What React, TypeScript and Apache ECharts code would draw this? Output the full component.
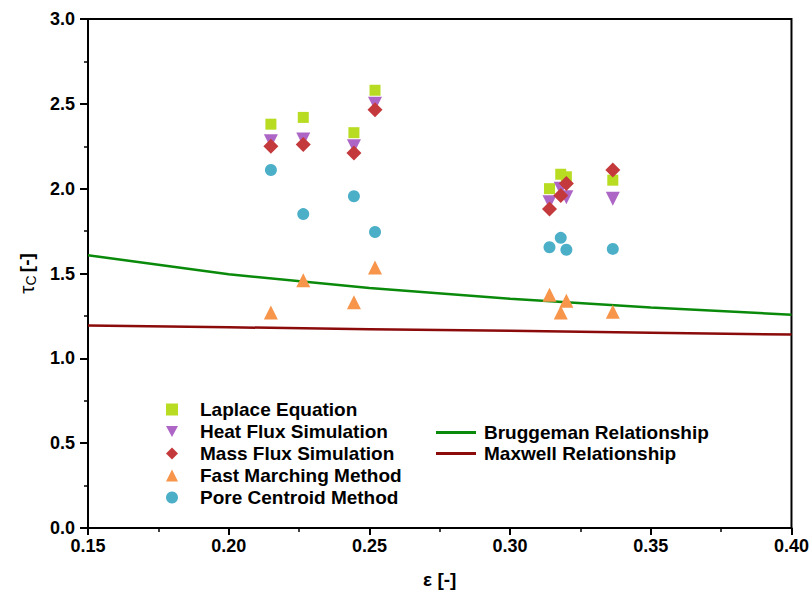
import React, { useEffect, useRef } from "react";
import * as echarts from "echarts";

const simEps = [0.215, 0.2265, 0.2445, 0.252, 0.314, 0.318, 0.320, 0.3365];
const laplace = [2.38, 2.42, 2.33, 2.58, 2.0, 2.085, 2.07, 2.05];
const heatFlux = [2.28, 2.29, 2.25, 2.5, 1.92, 2.0, 1.95, 1.94];
const massFlux = [2.25, 2.26, 2.21, 2.465, 1.88, 1.96, 2.03, 2.11];
const fastMarching = [1.27, 1.46, 1.33, 1.535, 1.375, 1.27, 1.34, 1.275];
const poreCentroid = [2.11, 1.85, 1.955, 1.745, 1.655, 1.71, 1.64, 1.645];

const modelEps = [0.15, 0.2, 0.25, 0.3, 0.35, 0.4];
const bruggeman = [1.607, 1.495, 1.414, 1.351, 1.299, 1.257];
const maxwell = [1.194, 1.183, 1.172, 1.162, 1.151, 1.14];

const FONT = "'Liberation Sans', Arial, sans-serif";

const pair = (xs: number[], ys: number[]) => xs.map((x, i) => [x, ys[i]]);

export default function App() {
  const ref = useRef<HTMLDivElement>(null);
  useEffect(() => {
    if (!ref.current) return;
    const chart = echarts.init(ref.current, null, { renderer: "svg" });
    const scatter = (name: string, data: number[], symbol: string, color: string, size: number, rotate = 0) => ({
      name,
      type: "scatter",
      data: pair(simEps, data),
      symbol,
      symbolSize: size,
      symbolRotate: rotate,
      symbolKeepAspect: true,
      itemStyle: { color, opacity: 1 },
      z: 3,
    });
    chart.setOption({
      animation: false,
      backgroundColor: "#fff",
      grid: { left: 88, right: 20, top: 19, bottom: 66, show: true, borderColor: "#000", borderWidth: 2, containLabel: false },
      xAxis: {
        type: "value",
        min: 0.15,
        max: 0.4,
        interval: 0.05,
        name: "ε [-]",
        nameLocation: "middle",
        nameGap: 42,
        nameTextStyle: { fontFamily: FONT, fontWeight: "bold", fontSize: 19, color: "#000" },
        axisLine: { show: true, lineStyle: { color: "#000", width: 2 } },
        axisTick: { show: true, inside: false, length: 7, lineStyle: { color: "#000", width: 2 } },
        minorTick: { show: true, splitNumber: 2, length: 4, lineStyle: { color: "#000", width: 1.5 } },
        splitLine: { show: false },
        axisLabel: { fontFamily: FONT, fontWeight: "bold", fontSize: 18, color: "#000", margin: 9, formatter: (v: number) => v.toFixed(2) },
      },
      yAxis: {
        type: "value",
        min: 0,
        max: 3,
        interval: 0.5,
        name: "{t|τ}{s|C} {b|[-]}",
        nameLocation: "middle",
        nameRotate: 90,
        nameGap: 50,
        nameTextStyle: {
          color: "#000",
          fontFamily: FONT,
          rich: {
            t: { fontFamily: FONT, fontSize: 21, color: "#000" },
            s: { fontFamily: FONT, fontSize: 14, color: "#000", verticalAlign: "bottom", padding: [10, 0, 0, 0] },
            b: { fontFamily: FONT, fontSize: 19, fontWeight: "bold", color: "#000" },
          },
        },
        axisLine: { show: true, lineStyle: { color: "#000", width: 2 } },
        axisTick: { show: true, inside: false, length: 8, lineStyle: { color: "#000", width: 2 } },
        minorTick: { show: true, splitNumber: 2, length: 4, lineStyle: { color: "#000", width: 1.5 } },
        splitLine: { show: false },
        axisLabel: { fontFamily: FONT, fontWeight: "bold", fontSize: 18, color: "#000", margin: 13, formatter: (v: number) => v.toFixed(1) },
      },
      legend: [
        {
          orient: "vertical",
          left: 166,
          top: 400,
          padding: 0,
          itemWidth: 12,
          itemHeight: 12,
          itemGap: 3,
          textStyle: { fontFamily: FONT, fontWeight: "bold", fontSize: 19, color: "#000", padding: [0, 0, 0, 17] },
          data: [
            "Laplace Equation",
            { name: "Heat Flux Simulation", icon: "path://M0,0 L12,0 L6,11 Z" },
            "Mass Flux Simulation",
            "Fast Marching Method",
            "Pore Centroid Method",
          ],
        },
        {
          orient: "vertical",
          left: 436,
          top: 423,
          padding: 0,
          itemWidth: 40,
          itemHeight: 3,
          itemGap: 2,
          textStyle: { fontFamily: FONT, fontWeight: "bold", fontSize: 19, color: "#000", padding: [0, 0, 0, 3] },
          data: [
            { name: "Bruggeman Relationship", icon: "rect" },
            { name: "Maxwell Relationship", icon: "rect" },
          ],
        },
      ],
      series: [
        {
          name: "Bruggeman Relationship",
          type: "line",
          data: pair(modelEps, bruggeman),
          symbol: "none",
          lineStyle: { color: "#0a8a0a", width: 2.5 },
          itemStyle: { color: "#0a8a0a" },
          z: 2,
        },
        {
          name: "Maxwell Relationship",
          type: "line",
          data: pair(modelEps, maxwell),
          symbol: "none",
          lineStyle: { color: "#8b0a0a", width: 2.5 },
          itemStyle: { color: "#8b0a0a" },
          z: 2,
        },
        scatter("Laplace Equation", laplace, "rect", "#b8dc22", 11),
        scatter("Heat Flux Simulation", heatFlux, "triangle", "#ad66c6", 14, 180),
        scatter("Mass Flux Simulation", massFlux, "diamond", "#c4393b", 15),
        scatter("Fast Marching Method", fastMarching, "triangle", "#f7954a", 14),
        scatter("Pore Centroid Method", poreCentroid, "circle", "#4bafc8", 12),
      ],
    });
    return () => chart.dispose();
  }, []);
  return <div ref={ref} style={{ position: "absolute", left: 0, top: 0, width: 812, height: 594 }} />;
}
